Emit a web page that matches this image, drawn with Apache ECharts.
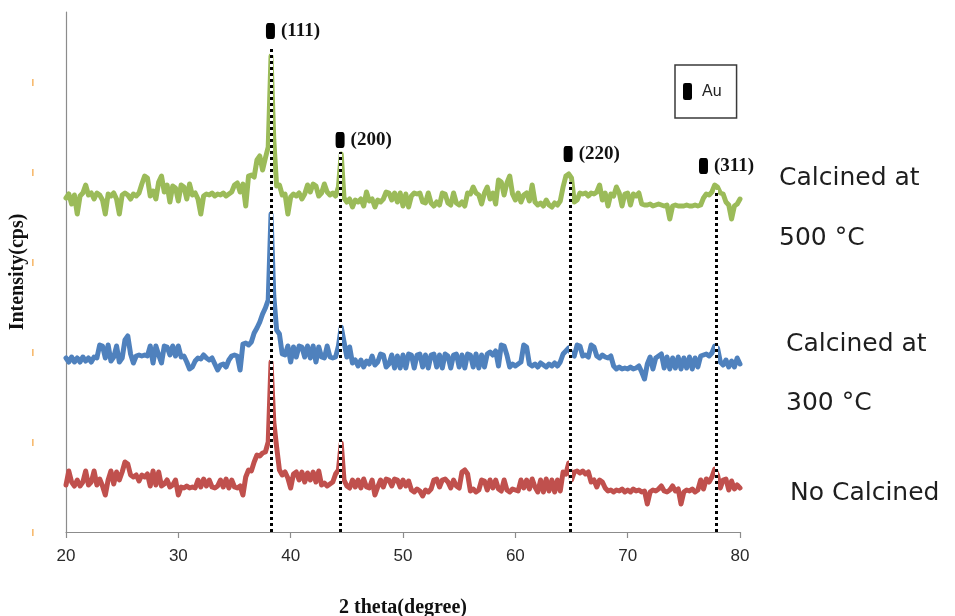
<!DOCTYPE html>
<html>
<head>
<meta charset="utf-8">
<title>XRD patterns of Au</title>
<script src="https://cdn.jsdelivr.net/npm/echarts@6/dist/echarts.min.js"></script>
<style>
  html, body { margin: 0; padding: 0; background: #ffffff; }
  #chart { width: 955px; height: 616px; }
</style>
</head>
<body>
<div id="chart"></div>
<script>
// Scan grid: 2θ from 20° to 80° in 0.25° steps
const twoThetaStart = 20;
const twoThetaStep = 0.25;

// Intensity (cps, stacked offsets) for each sample, one row per 5°
const noCalcined = [
  47,61,50,46,52,46,50,61,47,50,61,47,53,46,37,52,61,48,60,52,
  60,70,68,57,55,57,51,57,55,58,46,61,47,60,46,48,52,45,47,52,
  37,45,44,46,44,45,44,52,45,53,46,52,45,44,46,52,45,53,44,52,
  45,44,46,37,55,62,61,70,77,76,79,80,90,170,110,85,62,57,60,54,
  44,58,60,52,60,50,59,52,60,50,61,47,49,46,48,50,58,62,89,52,
  46,44,52,45,52,44,53,45,44,52,37,45,52,45,53,52,46,53,52,45,
  52,46,51,42,40,43,41,36,42,40,43,52,53,45,52,53,50,44,52,46,
  44,60,62,58,41,43,40,42,52,51,42,52,44,52,43,41,52,42,40,43,
  42,41,52,44,52,43,53,45,40,52,40,53,41,52,40,52,41,60,58,69,
  52,60,61,59,61,58,60,50,52,45,52,50,44,41,42,40,42,41,43,40,
  42,40,43,41,42,40,41,28,40,42,41,43,46,41,40,42,46,41,43,28,
  40,42,41,43,40,42,52,43,53,50,55,63,57,44,52,53,42,51,43,47,
  44
];

const calcined300 = [
  174,170,175,170,174,170,175,171,174,170,175,174,187,186,174,187,171,175,186,170,
  174,192,196,178,169,176,177,176,177,176,186,169,186,177,169,186,185,177,186,176,
  186,175,176,170,163,165,171,174,173,177,174,172,174,168,162,167,168,165,172,176,
  177,176,162,188,189,187,190,199,204,210,218,224,232,318,236,202,198,178,177,186,
  170,185,175,186,185,175,186,174,186,170,185,175,174,186,175,174,175,186,205,190,
  175,185,169,172,166,172,165,171,168,176,167,170,178,177,165,168,177,164,176,164,
  177,164,178,177,164,177,178,165,177,164,177,178,165,177,164,178,176,164,177,178,
  165,177,164,178,177,165,178,164,177,165,178,180,177,181,166,187,186,177,165,168,
  166,168,170,187,185,168,166,168,165,169,167,165,168,166,169,166,170,178,181,184,
  178,176,187,186,176,177,175,187,185,176,174,177,175,174,176,166,163,165,163,164,
  163,165,163,164,166,160,153,168,175,163,174,176,178,164,175,163,174,164,175,163,
  174,164,175,163,174,165,176,177,178,176,179,186,184,170,167,172,165,171,165,174,
  168
];

const calcined500 = [
  334,338,328,337,318,336,339,347,337,339,333,339,337,332,318,338,336,339,333,318,
  337,339,337,333,338,336,339,348,356,354,336,341,333,350,356,340,347,330,346,344,
  331,347,345,333,348,337,339,333,318,336,338,337,339,336,338,337,339,336,338,340,
  347,349,340,348,326,356,357,355,372,376,362,374,385,476,392,346,347,337,338,318,
  335,338,336,339,333,338,347,340,348,346,336,339,348,340,337,339,336,345,378,334,
  330,333,325,332,330,333,326,340,331,333,325,332,330,333,340,339,332,339,330,339,
  326,338,325,336,339,338,339,330,329,339,329,326,330,327,339,338,329,327,339,329,
  327,330,326,339,338,345,339,337,328,339,345,333,339,328,352,350,337,349,356,338,
  332,339,330,337,339,331,347,330,327,329,326,332,327,325,329,327,331,345,356,358,
  354,330,332,339,338,339,336,339,338,340,347,332,339,326,338,336,345,339,326,338,
  339,327,338,336,339,328,327,327,328,326,327,328,327,326,327,313,326,327,326,326,
  326,327,326,326,327,326,327,334,338,337,340,347,345,339,338,330,327,313,326,328,
  333
];

// Au reflections: drop-line positions and heights
const peakAngles = [38.25, 44.45, 64.9, 77.85];
const dropLineTops = [484, 380, 350, 342];

// Miller-index tags and where they sit
const peakLabels = ['(111)', '(200)', '(220)', '(311)'];
const labelAngles = [38.2, 44.4, 64.7, 76.75];
const labelLevels = [501, 392, 378, 366];

// Axis ranges
const xMin = 20, xMax = 80, xInterval = 10;
const yMin = 0, yMax = 520, yInterval = 90;

// Sample captions on the right
const sampleCaptions = [
  { lines: ['Calcined at', '500 °C'], x: 779, y: [178, 238] },
  { lines: ['Calcined at', '300 °C'], x: 786, y: [344, 403] },
  { lines: ['No Calcined'], x: 790, y: [493] }
];

function toPairs(values) {
  return values.map((v, i) => [twoThetaStart + i * twoThetaStep, v]);
}

const chart = echarts.init(document.getElementById('chart'), null, { renderer: 'canvas' });

const traceStyle = (color) => ({
  type: 'line',
  showSymbol: false,
  symbol: 'none',
  smooth: false,
  lineStyle: { color: color, width: 5, join: 'round', cap: 'round' },
  itemStyle: { color: color },
  emphasis: { disabled: true },
  z: 2
});

const dropLineData = peakAngles.map((a, i) => ({ coords: [[a, yMin], [a, dropLineTops[i]]] }));

const captionGraphics = [];
sampleCaptions.forEach((c) => {
  c.lines.forEach((t, k) => {
    captionGraphics.push({
      type: 'text',
      x: c.x,
      y: c.y[k],
      style: {
        text: t,
        fill: '#1e1e1e',
        font: '25px "DejaVu Sans", sans-serif',
        textAlign: 'left',
        verticalAlign: 'middle',
        textVerticalAlign: 'middle'
      }
    });
  });
});

const option = {
  backgroundColor: '#ffffff',
  animation: false,
  grid: {
    left: 66, right: 215, top: 12, bottom: 84,
    containLabel: false,
    outerBoundsMode: 'none'
  },
  legend: {
    data: ['Au'],
    left: 675,
    top: 65,
    orient: 'horizontal',
    icon: 'roundRect',
    itemWidth: 9,
    itemHeight: 17,
    padding: [18, 15, 18, 8],
    borderColor: '#3a3a3a',
    borderWidth: 1.5,
    borderRadius: 0,
    selectedMode: false,
    itemStyle: { color: '#000000', opacity: 1 },
    textStyle: {
      fontFamily: '"Liberation Sans", Arial, sans-serif',
      fontSize: 16,
      color: '#222',
      padding: [0, 0, 0, 5]
    }
  },
  xAxis: {
    type: 'value',
    min: xMin,
    max: xMax,
    interval: xInterval,
    name: '2 theta(degree)',
    nameLocation: 'middle',
    nameGap: 66,
    nameMoveOverlap: false,
    nameTextStyle: {
      fontFamily: '"Liberation Serif", "Times New Roman", serif',
      fontWeight: 'bold',
      fontSize: 20,
      color: '#111'
    },
    axisLine: { show: true, lineStyle: { color: '#8c8c8c', width: 1.2 } },
    axisTick: { show: true, length: 6, inside: false, lineStyle: { color: '#8c8c8c', width: 1.2 } },
    axisLabel: {
      margin: 16,
      fontFamily: '"Liberation Sans Narrow", "Liberation Sans", sans-serif',
      fontSize: 17,
      color: '#2a2a2a'
    },
    splitLine: { show: false }
  },
  yAxis: {
    type: 'value',
    min: yMin,
    max: yMax,
    interval: yInterval,
    name: 'Intensity(cps)',
    nameLocation: 'middle',
    nameGap: 38,
    nameMoveOverlap: false,
    nameTextStyle: {
      fontFamily: '"Liberation Serif", "Times New Roman", serif',
      fontWeight: 'bold',
      fontSize: 20,
      color: '#111'
    },
    axisLine: { show: true, lineStyle: { color: '#8c8c8c', width: 1.2 } },
    axisTick: { show: false },
    axisLabel: {
      show: true,
      showMaxLabel: false,
      margin: 32,
      formatter: () => '|',
      fontSize: 8,
      fontWeight: 'bold',
      color: '#f39a2a'
    },
    splitLine: { show: false }
  },
  series: [
    Object.assign({ name: 'No Calcined', data: toPairs(noCalcined) }, traceStyle('#c0504d')),
    Object.assign({ name: 'Calcined at 300 °C', data: toPairs(calcined300) }, traceStyle('#4f81bd')),
    Object.assign({ name: 'Calcined at 500 °C', data: toPairs(calcined500) }, traceStyle('#9bbb59')),
    {
      name: 'dropLinesBase',
      type: 'lines',
      coordinateSystem: 'cartesian2d',
      polyline: false,
      silent: true,
      lineStyle: { color: '#ffffff', width: 3, opacity: 1, type: 'solid' },
      data: dropLineData,
      z: 5
    },
    {
      name: 'dropLines',
      type: 'lines',
      coordinateSystem: 'cartesian2d',
      polyline: false,
      silent: true,
      lineStyle: { color: '#000000', width: 3, opacity: 1, type: [3, 3] },
      data: dropLineData,
      z: 6
    },
    {
      name: 'Au',
      type: 'scatter',
      symbol: 'roundRect',
      symbolSize: [9, 16],
      itemStyle: { color: '#000000', opacity: 1 },
      silent: true,
      data: labelAngles.map((a, i) => [a, labelLevels[i], peakLabels[i]]),
      label: {
        show: true,
        position: 'right',
        distance: 6,
        formatter: (p) => p.data[2],
        fontFamily: '"Liberation Serif", "Times New Roman", serif',
        fontWeight: 'bold',
        fontSize: 19,
        color: '#111'
      },
      z: 7
    }
  ],
  graphic: captionGraphics
};

chart.setOption(option);
</script>
</body>
</html>
